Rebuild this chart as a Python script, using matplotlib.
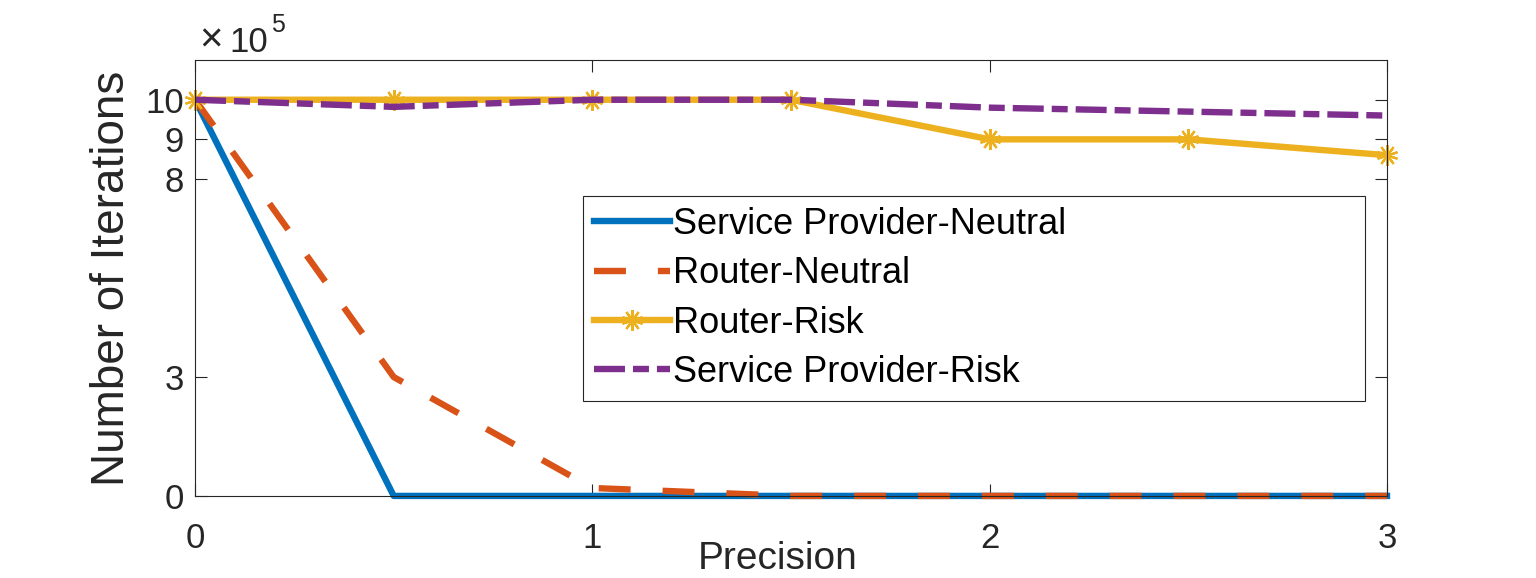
import matplotlib.pyplot as plt

plt.rcParams['font.family'] = ['Liberation Sans', 'DejaVu Sans']

# values in units of 1e5 iterations
precision = [0, 0.5, 1, 1.5, 2, 2.5, 3]
sp_neutral = [10, 0, 0, 0, 0, 0, 0]
router_neutral = [10, 3, 0.2, 0, 0, 0, 0]
router_risk = [10, 10, 10, 10, 9, 9, 8.6]
sp_risk = [10, 9.82, 10, 10, 9.8, 9.7, 9.6]

labels = ['Service Provider-Neutral', 'Router-Neutral', 'Router-Risk', 'Service Provider-Risk']
x_ticks = [0, 1, 2, 3]
y_ticks = [0, 3, 8, 9, 10]

fig = plt.figure(figsize=(15.36, 5.78), dpi=100)
ax = fig.add_axes([0.127, 0.142, 0.776, 0.754])

lw = 4.6
ax.plot(precision, sp_neutral, color='#0072BD', lw=lw, label=labels[0], clip_on=False)
ax.plot(precision, router_neutral, color='#D95319', lw=lw, dashes=(5.0, 5.0),
        label=labels[1], clip_on=False)
ax.plot(precision, router_risk, color='#EDB120', lw=lw, marker=(10, 2, 0), markersize=15,
        markeredgewidth=1.6, label=labels[2], clip_on=False)
ax.plot(precision, sp_risk, color='#7E2F8E', lw=lw, dashes=(4.85, 1.25, 2.5, 1.25),
        label=labels[3], clip_on=False)

ax.set_xlim(0, 3)
ax.set_ylim(0, 11)
ax.set_xticks(x_ticks)
ax.set_yticks(y_ticks)
ax.tick_params(direction='in', length=8.5, width=0.8, top=True, right=True,
               labelsize=25, colors='#262626', pad=8)
ax.tick_params(axis='x', pad=19)
for s in ax.spines.values():
    s.set_color('#262626')
    s.set_linewidth(0.8)

ax.set_xlabel('Precision', fontsize=28, color='#262626')
ax.xaxis.set_label_coords(0.489, -0.104)
ax.set_ylabel('Number of Iterations', fontsize=33, color='#262626', labelpad=8)

# exponent label, MATLAB style
fig.text(199 / 1536, 1 - 51 / 578, '×', fontsize=29, color='#262626',
         ha='left', va='baseline')
fig.text(229 / 1536, 1 - 52 / 578, '10', fontsize=25, color='#262626',
         ha='left', va='baseline')
fig.text(271 / 1536, 1 - 32 / 578, '5', fontsize=18, color='#262626',
         ha='left', va='baseline')

leg = ax.legend(loc='lower left', bbox_to_anchor=(0.3255, 0.218, 0.656, 0.477),
                mode='expand', fontsize=26, frameon=True, fancybox=False,
                edgecolor='#262626', framealpha=1, handlelength=2.1,
                handletextpad=0.08, labelspacing=0.4, borderpad=0.3,
                borderaxespad=0)
leg.get_frame().set_linewidth(0.8)

fig.savefig('out.png', dpi=100)
